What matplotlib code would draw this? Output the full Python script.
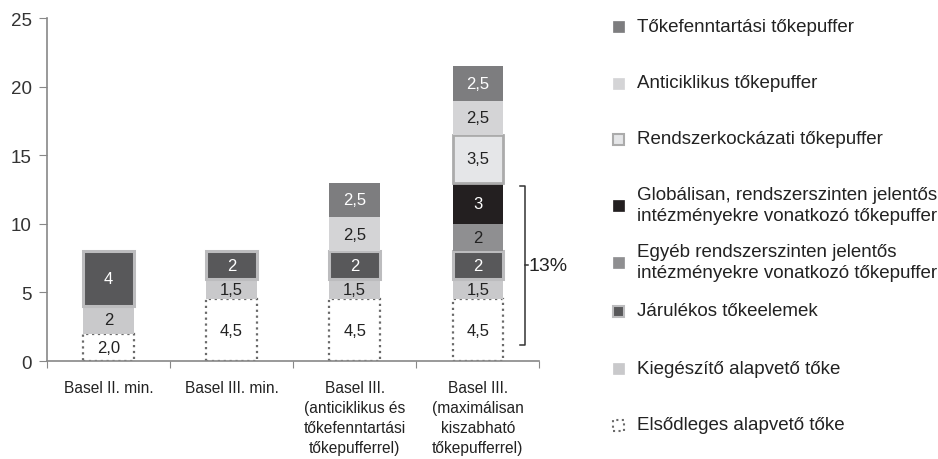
import matplotlib.pyplot as plt
from matplotlib.patches import Rectangle

plt.rcParams['font.family'] = ['Liberation Sans', 'DejaVu Sans']

categories = ["Basel II. min.", "Basel III. min.",
              "Basel III.\n(anticiklikus és\ntőkefenntartási\ntőkepufferrel)",
              "Basel III.\n(maximálisan\nkiszabható\ntőkepufferrel)"]

# stacked layers bottom -> top, one list per bar: (layer, value, label)
bar1 = [("elso", 2.0, "2,0"), ("kieg", 2, "2"), ("jarul", 4, "4")]
bar2 = [("elso", 4.5, "4,5"), ("kieg", 1.5, "1,5"), ("jarul", 2, "2")]
bar3 = [("elso", 4.5, "4,5"), ("kieg", 1.5, "1,5"), ("jarul", 2, "2"),
        ("anti", 2.5, "2,5"), ("fennt", 2.5, "2,5")]
bar4 = [("elso", 4.5, "4,5"), ("kieg", 1.5, "1,5"), ("jarul", 2, "2"),
        ("egyeb", 2, "2"), ("glob", 3, "3"), ("rendsz", 3.5, "3,5"),
        ("anti", 2.5, "2,5"), ("fennt", 2.5, "2,5")]
bars = [bar1, bar2, bar3, bar4]

legend_labels = [
    ("fennt", "Tőkefenntartási tőkepuffer"),
    ("anti", "Anticiklikus tőkepuffer"),
    ("rendsz", "Rendszerkockázati tőkepuffer"),
    ("glob", "Globálisan, rendszerszinten jelentős\nintézményekre vonatkozó tőkepuffer"),
    ("egyeb", "Egyéb rendszerszinten jelentős\nintézményekre vonatkozó tőkepuffer"),
    ("jarul", "Járulékos tőkeelemek"),
    ("kieg", "Kiegészítő alapvető tőke"),
    ("elso", "Elsődleges alapvető tőke"),
]

# face, edge, linewidth, linestyle, text colour
styles = {
    "fennt": ("#7d7d7f", "none", 0, "-", "white"),
    "anti": ("#d4d4d6", "none", 0, "-", "#222222"),
    "rendsz": ("#e5e6e8", "#ababab", 2, "-", "#222222"),
    "glob": ("#231f20", "none", 0, "-", "white"),
    "egyeb": ("#8f8f91", "none", 0, "-", "#222222"),
    "jarul": ("#58585a", "#bcbcbe", 2.2, "-", "white"),
    "kieg": ("#c9c9cb", "none", 0, "-", "#222222"),
    "elso": ("white", "#6a6a6a", 1.6, ":", "#222222"),
}

fig = plt.figure(figsize=(9.38, 4.6), dpi=100)
ax = fig.add_axes([0.050, 0.213, 0.525, 0.745])

width = 0.41
for i, bar in enumerate(bars):
    bottom = 0
    for key, val, lab in bar:
        fc, ec, lw, ls, tc = styles[key]
        ax.bar(i, val, width, bottom=bottom, color=fc, edgecolor=ec,
               linewidth=lw, linestyle=ls, zorder=2)
        ax.text(i, bottom + val / 2, lab, ha="center", va="center",
                fontsize=12, color=tc, zorder=3)
        bottom += val

ax.set_xlim(-0.5, 3.5)
ax.set_ylim(0, 25)
ax.set_yticks([0, 5, 10, 15, 20, 25])
ax.tick_params(axis="y", labelsize=13.5, colors="#333333", length=6,
               color="#888888", pad=5)
ax.set_xticks([-0.5, 0.5, 1.5, 2.5, 3.5])
ax.set_xticklabels([])
ax.tick_params(axis="x", length=5, color="#888888")
ax.set_xticks([0, 1, 2, 3], minor=True)
ax.set_xticklabels(categories, minor=True, fontsize=11.2, color="#222222",
                   linespacing=1.4)
ax.tick_params(axis="x", which="minor", length=0, pad=14)
for s in ["top", "right"]:
    ax.spines[s].set_visible(False)
for s in ["left", "bottom"]:
    ax.spines[s].set_color("#888888")
    ax.spines[s].set_linewidth(1.2)

# bracket for 13%
bx0, bx1 = 3.34, 3.38
ax.plot([bx0, bx1, bx1, bx0], [12.8, 12.8, 1.2, 1.2], color="#333333",
        lw=1.1, clip_on=False)
ax.plot([bx1, bx1 + 0.03], [7, 7], color="#333333", lw=1.1, clip_on=False)
ax.text(bx1 + 0.035, 7, "13%", ha="left", va="center", fontsize=14,
        color="#222222")

# legend drawn by hand
ys = [27, 84, 140, 206, 263, 312, 369, 426]
for (key, lab), y in zip(legend_labels, ys):
    fc, ec, lw, ls, tc = styles[key]
    yf = 1 - y / 460
    w, h = 11 / 938, 11 / 460
    r = Rectangle((613 / 938, yf - h / 2), w, h, transform=fig.transFigure,
                  facecolor=fc, edgecolor=ec if ec != "none" else fc,
                  linewidth=min(lw, 1.5) if lw else 0.5, linestyle=ls)
    fig.add_artist(r)
    fig.text(637 / 938, yf, lab, ha="left", va="center", fontsize=13.5,
             color="#222222", linespacing=1.3)

fig.savefig("out.png", dpi=100)
